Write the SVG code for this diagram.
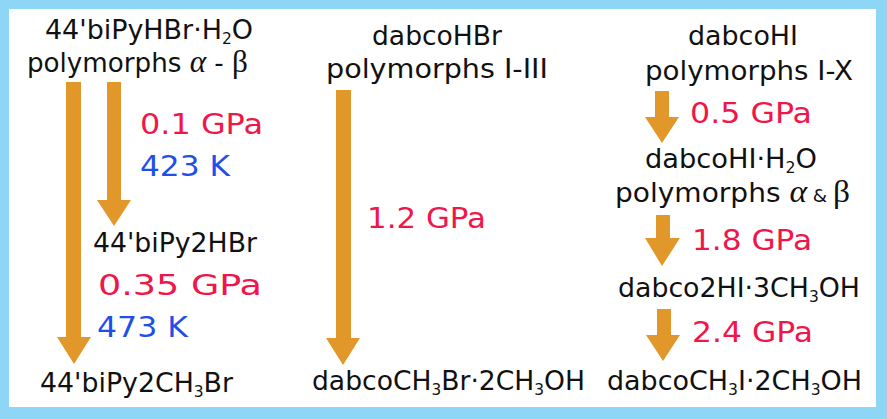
<svg xmlns="http://www.w3.org/2000/svg" width="887" height="419" viewBox="0 0 887 419">
<style>
.t{font-family:"DejaVu Sans","Verdana",sans-serif;font-size:26px;fill:#111}
.r{font-family:"DejaVu Sans","Verdana",sans-serif;font-size:28px;fill:#F0164A}
.b{font-family:"DejaVu Sans","Verdana",sans-serif;font-size:28px;fill:#1F4FEA}
.g{font-family:"Liberation Serif","Times New Roman",serif;font-size:31px}
.s{font-size:15px}
.arr{fill:#E2972A}
</style>
<rect x="0" y="0" width="887" height="419" fill="#fff"/>
<path d="M0,0H887V419H0Z M9,9V407H876V9Z" fill="#8ED6F5" fill-rule="evenodd"/>
<g id="connectors">
<polygon class="arr" points="66,82 81,82 81,337 91,337 74,364 57,337 66,337"/>
<polygon class="arr" points="107,82 121,82 121,200 131,200 114,226 97,200 107,200"/>
<polygon class="arr" points="336,90 351,90 351,338 360,338 343,365 326,338 336,338"/>
<polygon class="arr" points="655,91 669,91 669,117 679,117 662,143 645,117 655,117"/>
<polygon class="arr" points="656,215 670,215 670,238 680,238 662,266 645,238 656,238"/>
<polygon class="arr" points="657,309 671,309 671,335 680,335 663,361 646,335 657,335"/>
</g>
<g id="n1"><text class="t" x="45" y="39" textLength="208" lengthAdjust="spacingAndGlyphs">44'biPyHBr·H<tspan class="s" dy="5">2</tspan><tspan dy="-5">O</tspan></text>
<text class="t" x="27" y="72" textLength="221" lengthAdjust="spacingAndGlyphs">polymorphs <tspan class="g" font-style="italic">α</tspan><tspan> - </tspan><tspan class="g">β</tspan></text></g>
<g id="l1"><text class="r" x="140" y="134" textLength="123" lengthAdjust="spacingAndGlyphs">0.1 GPa</text>
<text class="b" x="140" y="176" textLength="90" lengthAdjust="spacingAndGlyphs">423 K</text></g>
<g id="n2"><text class="t" x="93" y="252" textLength="164" lengthAdjust="spacingAndGlyphs">44'biPy2HBr</text></g>
<g id="l2"><text class="r" x="98" y="295" textLength="164" lengthAdjust="spacingAndGlyphs">0.35 GPa</text>
<text class="b" x="97" y="337" textLength="91" lengthAdjust="spacingAndGlyphs">473 K</text></g>
<g id="n3"><text class="t" x="40" y="392" textLength="193" lengthAdjust="spacingAndGlyphs">44'biPy2CH<tspan class="s" dy="5">3</tspan><tspan dy="-5">Br</tspan></text></g>
<g id="n4"><text class="t" x="372" y="45" textLength="130" lengthAdjust="spacingAndGlyphs">dabcoHBr</text>
<text class="t" x="326" y="78" textLength="222" lengthAdjust="spacingAndGlyphs">polymorphs I-III</text></g>
<g id="l3"><text class="r" x="367" y="228" textLength="119" lengthAdjust="spacingAndGlyphs">1.2 GPa</text></g>
<g id="n5"><text class="t" x="312" y="390" textLength="273" lengthAdjust="spacingAndGlyphs">dabcoCH<tspan class="s" dy="5">3</tspan><tspan dy="-5">Br·2CH</tspan><tspan class="s" dy="5">3</tspan><tspan dy="-5">OH</tspan></text></g>
<g id="n6"><text class="t" x="688" y="45" textLength="110" lengthAdjust="spacingAndGlyphs">dabcoHI</text>
<text class="t" x="645" y="80" textLength="208" lengthAdjust="spacingAndGlyphs">polymorphs I-X</text></g>
<g id="l4"><text class="r" x="690" y="123" textLength="122" lengthAdjust="spacingAndGlyphs">0.5 GPa</text></g>
<g id="n7"><text class="t" x="645" y="168" textLength="172" lengthAdjust="spacingAndGlyphs">dabcoHI·H<tspan class="s" dy="5">2</tspan><tspan dy="-5">O</tspan></text>
<text class="t" x="615" y="202" textLength="235" lengthAdjust="spacingAndGlyphs">polymorphs <tspan class="g" font-style="italic">α</tspan><tspan font-size="17px"> &amp; </tspan><tspan class="g">β</tspan></text></g>
<g id="l5"><text class="r" x="692" y="250" textLength="120" lengthAdjust="spacingAndGlyphs">1.8 GPa</text></g>
<g id="n8"><text class="t" x="618" y="297" textLength="242" lengthAdjust="spacingAndGlyphs">dabco2HI·3CH<tspan class="s" dy="5">3</tspan><tspan dy="-5">OH</tspan></text></g>
<g id="l6"><text class="r" x="692" y="342" textLength="121" lengthAdjust="spacingAndGlyphs">2.4 GPa</text></g>
<g id="n9"><text class="t" x="607" y="390" textLength="255" lengthAdjust="spacingAndGlyphs">dabcoCH<tspan class="s" dy="5">3</tspan><tspan dy="-5">I·2CH</tspan><tspan class="s" dy="5">3</tspan><tspan dy="-5">OH</tspan></text></g>
</svg>
